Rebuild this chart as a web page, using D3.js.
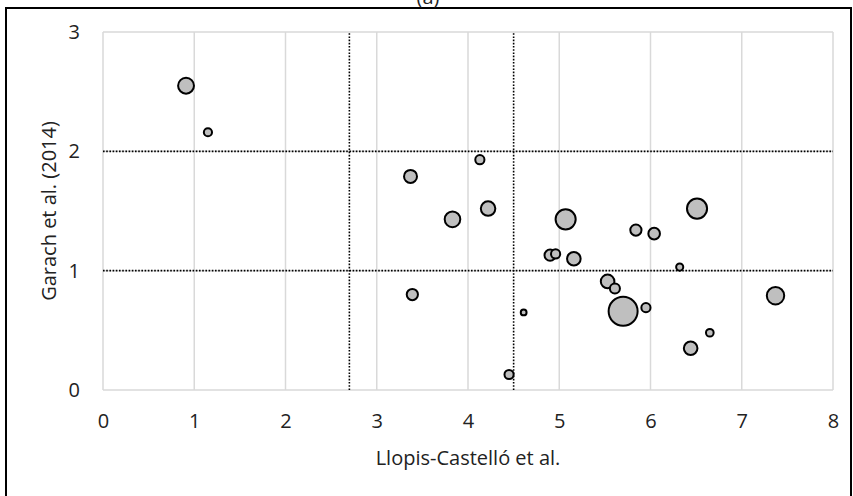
<!DOCTYPE html>
<html>
<head>
<meta charset="utf-8">
<script src="https://cdn.jsdelivr.net/npm/d3@7"></script>
<style>
    body { margin: 0; background: #fff; }
    text { font-family: "Open Sans", "Liberation Sans", sans-serif; fill: #222; }
</style>
</head>
<body>
<div id="chart"></div>
<script>
// Llopis-Castelló et al. (x), Garach et al. (2014) (y), bubble size
const xValues = [0.91, 1.15, 3.37, 3.39, 3.83, 4.13, 4.22, 4.45, 4.61, 4.90, 4.96, 5.07,
    5.16, 5.53, 5.61, 5.70, 5.84, 5.95, 6.04, 6.32, 6.44, 6.51, 6.65, 7.37];
const yValues = [2.55, 2.16, 1.79, 0.80, 1.43, 1.93, 1.52, 0.13, 0.65, 1.13, 1.14, 1.43,
    1.10, 0.91, 0.85, 0.66, 1.34, 0.69, 1.31, 1.03, 0.35, 1.52, 0.48, 0.79];
const sizes = [30, 8, 20, 15, 29, 10, 25, 10, 4, 15, 10, 48,
    22, 22, 12, 100, 15, 10, 16, 6, 22, 48, 7, 36];
const xTicks = [0, 1, 2, 3, 4, 5, 6, 7, 8];
const yTicks = [0, 1, 2, 3];
const xThresholds = [2.7, 4.5];
const yThresholds = [1, 2];

const width = 853, height = 496;
const fontSize = 20;

let svg = d3.select("#chart")
    .append("svg")
    .attr("width", width)
    .attr("height", height);

// outer frame
svg.append("rect")
    .attr("x", 6).attr("y", 8)
    .attr("width", 845).attr("height", 500)
    .attr("fill", "none")
    .attr("stroke", "#000")
    .attr("stroke-width", 2);

svg.append("text")
    .attr("x", 428).attr("y", 4)
    .attr("text-anchor", "middle")
    .attr("font-size", fontSize)
    .text("(a)");

let x = d3.scaleLinear().domain([0, 8]).range([103, 833]);
let y = d3.scaleLinear().domain([0, 3]).range([390, 32]);
let r = d3.scaleSqrt().domain([0, 100]).range([0, 14.5]);

// gridlines
svg.append("g")
    .selectAll("line")
    .data(xTicks)
    .enter()
    .append("line")
    .attr("x1", d => x(d)).attr("x2", d => x(d))
    .attr("y1", y(0)).attr("y2", y(3))
    .attr("stroke", "#d9d9d9")
    .attr("stroke-width", 1.5);

svg.append("g")
    .selectAll("line")
    .data(yTicks)
    .enter()
    .append("line")
    .attr("x1", x(0)).attr("x2", x(8))
    .attr("y1", d => y(d)).attr("y2", d => y(d))
    .attr("stroke", "#d9d9d9")
    .attr("stroke-width", 1.5);

// tick labels
let xAxis = svg.append("g")
    .attr("transform", "translate(0," + y(0) + ")")
    .call(d3.axisBottom(x).tickValues(xTicks).tickSize(0).tickPadding(24).tickFormat(d3.format("d")));
let yAxis = svg.append("g")
    .attr("transform", "translate(" + x(0) + ",0)")
    .call(d3.axisLeft(y).tickValues(yTicks).tickSize(0).tickPadding(23).tickFormat(d3.format("d")));
[xAxis, yAxis].forEach(a => {
    a.select(".domain").remove();
    a.selectAll("text").attr("font-size", fontSize).attr("fill", "#222")
        .style("font-family", "'Open Sans', 'Liberation Sans', sans-serif");
});

// threshold lines
svg.append("g")
    .selectAll("line")
    .data(xThresholds)
    .enter()
    .append("line")
    .attr("x1", d => x(d)).attr("x2", d => x(d))
    .attr("y1", y(0)).attr("y2", y(3))
    .attr("stroke", "#000")
    .attr("stroke-width", 1.6)
    .attr("stroke-dasharray", "1.6,1.6");

svg.append("g")
    .selectAll("line")
    .data(yThresholds)
    .enter()
    .append("line")
    .attr("x1", x(0)).attr("x2", x(8))
    .attr("y1", d => y(d)).attr("y2", d => y(d))
    .attr("stroke", "#000")
    .attr("stroke-width", 1.6)
    .attr("stroke-dasharray", "1.6,1.6");

// axis titles
svg.append("text")
    .attr("x", 468).attr("y", 465)
    .attr("text-anchor", "middle")
    .attr("font-size", fontSize)
    .text("Llopis-Castelló et al.");

svg.append("text")
    .attr("transform", "translate(56," + 211 + ") rotate(-90)")
    .attr("text-anchor", "middle")
    .attr("font-size", fontSize)
    .text("Garach et al. (2014)");

// bubbles, largest first so small ones stay visible
let data = xValues.map((d, i) => ({x: d, y: yValues[i], s: sizes[i]}))
    .sort((a, b) => b.s - a.s);

svg.append("g")
    .selectAll("circle")
    .data(data)
    .enter()
    .append("circle")
    .attr("cx", d => x(d.x))
    .attr("cy", d => y(d.y))
    .attr("r", d => r(d.s))
    .attr("fill", "#bfbfbf")
    .attr("stroke", "#000")
    .attr("stroke-width", 2);
</script>
</body>
</html>
